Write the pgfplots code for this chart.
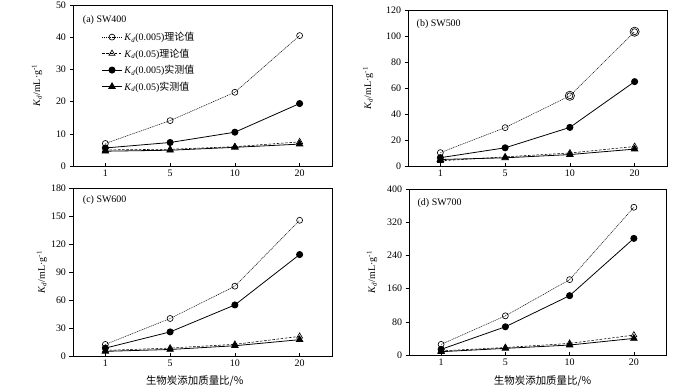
\documentclass[border=0pt]{standalone}
\usepackage{pgfplots}
\pgfplotsset{compat=1.18}
\usepackage{fontspec}
\setmainfont{Liberation Serif}
\newfontfamily\cjk{Noto Sans CJK SC}

\tikzset{panellabel/.style={font=\fontsize{10}{11}\selectfont, anchor=west}}
\pgfplotsset{
  panel/.style={
    scale only axis,
    xmin=-0.5, xmax=3.5,
    xtick={0,1,2,3}, xticklabels={1,5,10,20},
    ymin=0,
    axis line style={line width=0.6pt},
    tick style={black, line width=0.5pt},
    tick pos=left,
    xtick align=inside, ytick align=outside,
    major tick length=3.5bp,
    tick label style={font=\fontsize{10}{11}\selectfont},
    /pgf/number format/assume math mode=true,
    ylabel={\textit{K}\textsubscript{\textit{d}}/mL·g\textsuperscript{-1}},
    ylabel style={font=\fontsize{10}{11}\selectfont, rotate=0},
    xlabel style={font=\cjk\fontsize{10.5}{11}\selectfont},
    clip=false,
  },
  th1/.style={black, line width=0.5pt, dash pattern=on 1.1pt off 0.8pt, mark=o, mark size=3bp, mark options={solid, fill=white, line width=0.65pt}},
  th2/.style={black, line width=0.55pt, dash pattern=on 2.6pt off 1.6pt, mark=triangle, mark size=3.5bp, mark options={solid, fill=white, line width=0.65pt}},
  me1/.style={black, line width=0.8pt, solid, mark=*, mark size=3.1bp},
  me2/.style={black, line width=0.8pt, solid, mark=triangle*, mark size=3.7bp},
}

\begin{document}
\begin{tikzpicture}
\path[use as bounding box] (0,0) rectangle (700bp,-386bp);

% (a)
\begin{axis}[panel, at={(73bp,-166bp)}, anchor=south west, width=259bp, height=161bp,
  ymax=50, ytick={0,10,20,30,40,50},
  ylabel style={at={(axis description cs:-0.139,0.5)}, anchor=center},
  legend style={at={(0.11,0.845)}, anchor=north west, draw=none, fill=none,
    font=\fontsize{10}{11}\selectfont, row sep=2.6bp, inner sep=0pt},
  legend cell align=left,
  legend image code/.code={\draw[mark repeat=2,mark phase=2] plot coordinates {(0cm,0cm) (0.35cm,0cm) (0.7cm,0cm)};},
  ]
\addplot[th1] coordinates {(0,7.0) (1,14.1) (2,22.9) (3,40.5)};
\addlegendentry{\textit{K}\textsubscript{\textit{d}}(0.005){\cjk 理论值}}
\addplot[th2] coordinates {(0,5.0) (1,5.2) (2,6.0) (3,7.5)};
\addlegendentry{\textit{K}\textsubscript{\textit{d}}(0.05){\cjk 理论值}}
\addplot[me1] coordinates {(0,5.6) (1,7.3) (2,10.5) (3,19.4)};
\addlegendentry{\textit{K}\textsubscript{\textit{d}}(0.005){\cjk 实测值}}
\addplot[me2] coordinates {(0,4.6) (1,4.9) (2,5.8) (3,6.8)};
\addlegendentry{\textit{K}\textsubscript{\textit{d}}(0.05){\cjk 实测值}}
\node[panellabel] at (axis description cs:0.025,0.905) {(a) SW400};
\end{axis}

% (b)
\begin{axis}[panel, at={(408bp,-166bp)}, anchor=south west, width=259bp, height=156bp,
  ymax=120, ytick={0,20,40,60,80,100,120},
  ylabel style={at={(axis description cs:-0.154,0.5)}, anchor=center},
  ]
\addplot[th1] coordinates {(0,10.3) (1,29.5) (2,54) (3,103.3)};
\addplot[only marks, mark=o, mark size=4.6bp, mark options={line width=0.65pt}, forget plot] coordinates {(2,54) (3,103.3)};
\addplot[th2] coordinates {(0,4.0) (1,7.0) (2,10.0) (3,15.0)};
\addplot[me1] coordinates {(0,6.4) (1,14) (2,29.7) (3,64.9)};
\addplot[me2] coordinates {(0,5.0) (1,6.3) (2,8.8) (3,13)};
\node[panellabel] at (axis description cs:0.02,0.91) {(b) SW500};
\end{axis}

% (c)
\begin{axis}[panel, at={(73bp,-356bp)}, anchor=south west, width=259bp, height=168bp,
  ymax=180, ytick={0,30,60,90,120,150,180},
  ylabel style={at={(axis description cs:-0.12,0.5)}, anchor=center},
  xlabel={生物炭添加质量比/\%},
  xlabel style={at={(axis description cs:0.47,-0.15)}, anchor=center},
  ]
\addplot[th1] coordinates {(0,12.4) (1,40.2) (2,74.8) (3,145.4)};
\addplot[th2] coordinates {(0,6.0) (1,8.5) (2,12.5) (3,21)};
\addplot[me1] coordinates {(0,8.5) (1,25.8) (2,54.7) (3,108.7)};
\addplot[me2] coordinates {(0,5.0) (1,7.0) (2,11) (3,17.5)};
\node[panellabel] at (axis description cs:0.025,0.93) {(c) SW600};
\end{axis}

% (d)
\begin{axis}[panel, at={(409bp,-355bp)}, anchor=south west, width=257bp, height=166bp,
  ymax=400, ytick={0,80,160,240,320,400},
  ylabel style={at={(axis description cs:-0.144,0.5)}, anchor=center},
  xlabel={生物炭添加质量比/\%},
  xlabel style={at={(axis description cs:0.52,-0.155)}, anchor=center},
  ]
\addplot[th1] coordinates {(0,25.6) (1,94.4) (2,181.6) (3,356)};
\addplot[th2] coordinates {(0,10) (1,18) (2,28) (3,48)};
\addplot[me1] coordinates {(0,13.6) (1,68) (2,143) (3,281)};
\addplot[me2] coordinates {(0,8) (1,16) (2,24) (3,40)};
\node[panellabel] at (axis description cs:0.02,0.915) {(d) SW700};
\end{axis}
\end{tikzpicture}
\end{document}
